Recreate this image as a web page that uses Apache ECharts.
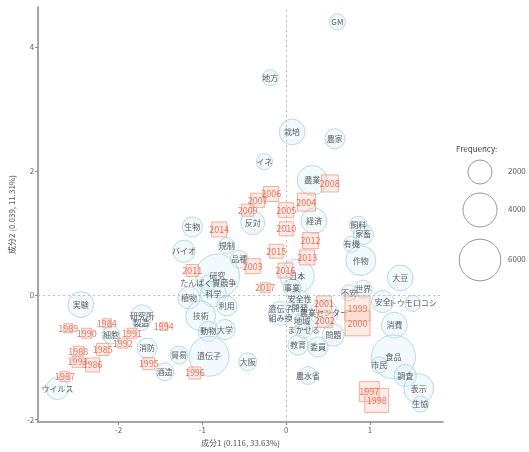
<!DOCTYPE html>
<html><head><meta charset="utf-8">
<script src="https://cdn.jsdelivr.net/npm/echarts@6/dist/echarts.min.js"></script>
<style>html,body{margin:0;padding:0;background:#fff}#c{width:529px;height:452px}</style>
</head><body><div id="c"></div>
<script>
// Words (column points)
const wordNames = ["GM","地方","栽培","農家","イネ","農業","経済","反対","生物","バイオ","規制","品種","研究","たんぱく質競争","科学","植物","利用","技術","動物","大学","遺伝子","大阪","貿易","消防","酒造","実験","研究所","製造","細胞","ウイルス","日本","事業","飼料","家畜","有機","作物","大豆","不安","世界","安全","トウモロコシ","消費","食品","市民","調査","表示","生協","農水省","教育","委員","遺伝子\n組み換","農業センター","安全性","開発","まかせる","問題","地域"];
const wordX = [0.61,-0.19,0.07,0.58,-0.26,0.31,0.33,-0.40,-1.12,-1.22,-0.71,-0.56,-0.82,-0.93,-0.87,-1.16,-0.71,-1.02,-0.93,-0.73,-0.92,-0.46,-1.28,-1.66,-1.45,-2.45,-1.72,-1.73,-2.09,-2.73,0.13,0.07,0.86,0.92,0.78,0.89,1.36,0.75,0.92,1.15,1.51,1.29,1.28,1.11,1.42,1.58,1.60,0.26,0.14,0.38,-0.07,0.45,0.16,0.16,0.21,0.56,0.19];
const wordY = [4.40,3.50,2.63,2.52,2.15,1.85,1.20,1.17,1.10,0.71,0.80,0.58,0.31,0.20,0.02,-0.04,-0.17,-0.33,-0.58,-0.55,-0.98,-1.07,-0.96,-0.85,-1.23,-0.15,-0.33,-0.44,-0.64,-1.50,0.31,0.12,1.13,0.98,0.82,0.56,0.28,0.04,0.10,-0.10,-0.13,-0.48,-0.99,-1.12,-1.29,-1.50,-1.75,-1.29,-0.80,-0.83,-0.29,-0.29,-0.06,-0.20,-0.55,-0.64,-0.42];
const wordFreq = [900,900,2300,1400,900,3100,2300,2000,1400,1700,900,1100,6700,900,2300,1700,1400,3100,1400,1400,5550,1100,1100,1400,1100,2300,1700,900,1100,1700,4000,1100,1100,1400,900,3100,2300,900,1100,1700,900,2300,6700,900,1700,3100,900,1100,1400,1400,2000,2700,1100,900,1100,1700,900];
// Years (row points)
const yearNames = ["1984","1985","1986","1987","1988","1989","1990","1991","1992","1993","1994","1995","1996","1997","1998","1999","2000","2001","2002","2003","2004","2005","2006","2007","2008","2009","2010","2011","2012","2013","2014","2015","2016","2017"];
const yearX = [-2.14,-2.19,-2.31,-2.64,-2.48,-2.60,-2.38,-1.84,-1.95,-2.49,-1.46,-1.64,-1.09,0.99,1.08,0.85,0.85,0.45,0.46,-0.40,0.24,0.00,-0.18,-0.34,0.52,-0.46,0.00,-1.12,0.29,0.25,-0.80,-0.12,-0.01,-0.25];
const yearY = [-0.45,-0.87,-1.12,-1.31,-0.90,-0.53,-0.61,-0.61,-0.77,-1.07,-0.50,-1.10,-1.25,-1.55,-1.69,-0.21,-0.45,-0.13,-0.40,0.47,1.50,1.37,1.63,1.53,1.80,1.37,1.07,0.40,0.88,0.61,1.06,0.71,0.40,0.12];
const yearFreq = [360,640,870,440,440,360,440,440,440,530,280,640,640,1770,2540,2760,2760,990,990,990,1430,990,990,870,1280,640,870,640,1130,990,990,870,990,440];
// Axis ticks and legend
const xTicks = [-2,-1,0,1];
const yTicks = [-2,0,2,4];
const legendValues = [2000,4000,6000];

const K = 0.537;
const sz = f => K*Math.sqrt(f);
const FONT = '"Noto Sans CJK JP","Noto Sans",sans-serif';

const chart = echarts.init(document.getElementById('c'), null, {renderer:'canvas'});
const legendY = [172,210,260];
const graphics = [{type:'text', left:456, top:145, style:{text:'Frequency:', fontSize:8, fill:'#444', fontFamily:FONT}}];
legendValues.forEach((v,i)=>{
  graphics.push({type:'circle', shape:{cx:480, cy:legendY[i], r:sz(v)/2}, style:{fill:'#fff', stroke:'#999', lineWidth:1}});
  graphics.push({type:'text', x:508, y:legendY[i]-5, style:{text:String(v), fontSize:8, fill:'#555', fontFamily:FONT}});
});

chart.setOption({
  animation:false,
  backgroundColor:'#fff',
  grid:{left:32, right:86, top:7, bottom:24},
  xAxis:{type:'value', min:-2.96, max:1.87, splitLine:{show:false},
    axisLine:{onZero:false, lineStyle:{color:'#888', width:1.5}},
    axisTick:{customValues:xTicks, length:3, lineStyle:{color:'#888'}},
    axisLabel:{customValues:xTicks, fontSize:8, color:'#666', margin:4, fontFamily:FONT},
    name:'成分1 (0.116, 33.63%)', nameLocation:'middle', nameGap:14,
    nameTextStyle:{fontSize:8, color:'#555', fontFamily:FONT}},
  yAxis:{type:'value', min:-2.04, max:4.64, splitLine:{show:false},
    axisLine:{onZero:false, lineStyle:{color:'#888', width:1.5}},
    axisTick:{customValues:yTicks, length:3, lineStyle:{color:'#888'}},
    axisLabel:{customValues:yTicks, fontSize:8, color:'#666', margin:4, fontFamily:FONT},
    name:'成分2 (0.039, 11.31%)', nameLocation:'middle', nameGap:22,
    nameTextStyle:{fontSize:8, color:'#555', fontFamily:FONT}},
  graphic:graphics,
  series:[
    {type:'scatter', z:2,
     data:wordNames.map((n,i)=>({name:n, value:[wordX[i],wordY[i],wordFreq[i]]})),
     symbol:'circle', symbolSize:v=>sz(v[2]),
     itemStyle:{color:'rgba(215,236,246,0.4)', borderColor:'#a9cfe0', borderWidth:1},
     label:{show:true, position:'inside', formatter:'{b}', fontSize:8, color:'#333', fontFamily:FONT, lineHeight:9},
     markLine:{silent:true, symbol:'none', label:{show:false},
       lineStyle:{type:[2,3], color:'#bbb', width:1},
       data:[{xAxis:0},{yAxis:0}]}
    },
    {type:'scatter', z:3,
     data:yearNames.map((n,i)=>({name:n, value:[yearX[i],yearY[i],yearFreq[i]]})),
     symbol:'rect', symbolSize:v=>sz(v[2])*0.886,
     itemStyle:{color:'rgba(250,200,180,0.45)', borderColor:'#ef9c88', borderWidth:1},
     label:{show:true, position:'inside', formatter:'{b}', fontSize:9, color:'#e2543f', fontFamily:FONT}
    }
  ]
});
</script></body></html>
